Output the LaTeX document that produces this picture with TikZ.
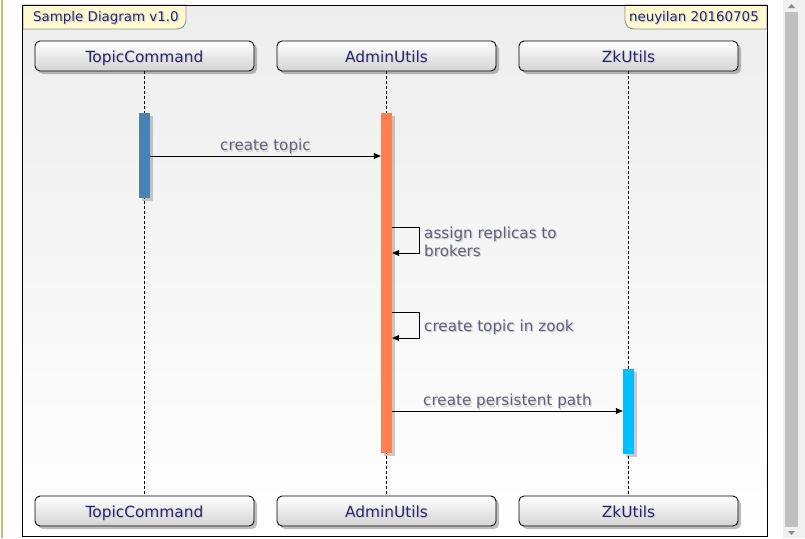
\documentclass[tikz,border=0pt]{standalone}
\usepackage{fontspec}
\setmainfont{DejaVu Sans}
\usetikzlibrary{shadows,arrows.meta,calc}
\definecolor{partfg}{HTML}{26266E}
\definecolor{msgfg}{HTML}{5E6078}
\definecolor{tabfill}{HTML}{FFFBD0}
\definecolor{steel}{HTML}{4682B4}
\definecolor{coral}{HTML}{FF7F50}
\definecolor{sky}{HTML}{00BFFF}
\definecolor{olive}{HTML}{C8BA78}
\newcommand\shd[2]{\rlap{\smash{\hspace{1.2pt}\raisebox{-1.2pt}{\color{#1}#2}}}#2}
\begin{document}
\begin{tikzpicture}[x=1pt,y=-1pt,
  part/.style={draw=black, line width=0.9pt, rounded corners=5pt, minimum width=219pt, minimum height=30pt,
    inner sep=0pt, top color=white, bottom color=black!17, text=partfg, font=\fontsize{15.4}{18}\selectfont,
    text height=12pt, text depth=0pt,
    drop shadow={shadow xshift=3pt, shadow yshift=-3pt, opacity=0.25, fill=black}},
  act/.style={minimum width=11pt, inner sep=0pt, draw=none,
    drop shadow={shadow xshift=2.5pt, shadow yshift=-2.5pt, opacity=0.2, fill=black}},
  life/.style={draw=black, line width=0.8pt, dash pattern=on 3pt off 2pt},
  msg/.style={draw=black, line width=0.8pt, -{Triangle[length=7pt,width=6pt]}},
  lbl/.style={text=msgfg, font=\fontsize{15.2}{18}\selectfont, inner sep=0pt},
  tab/.style={fill=tabfill, draw=black!45, line width=0.8pt},
  tabtxt/.style={text=partfg, font=\fontsize{13.4}{16}\selectfont, inner sep=0pt, text height=10pt, text depth=3pt}
]
\useasboundingbox (0,0) rectangle (805,538);
\fill[white] (0,0) rectangle (805,538);
% left edge line
\fill[olive] (0.5,0) rectangle (2.5,538);
% scrollbar
\fill[black!6] (783,0) rectangle (805,538);
\fill[black!25] (785,12) rectangle (798,527);
\fill[black!45] (788,8) -- (795,8) -- (791.5,4) -- cycle;
\fill[black!45] (788,531) -- (795,531) -- (791.5,535) -- cycle;
% frame
\shade[top color=black!7, bottom color=white] (22.5,5) rectangle (767.5,536);
\draw[black, line width=0.9pt] (22.5,5) rectangle (767.5,536);
% tabs
\path[tab] (23,5) -- (23,29) [rounded corners=9pt] -- (186,29) [sharp corners] -- (186,5) -- cycle;
\node[tabtxt, anchor=west] (title) at (33,17.5) {\shd{black!20}{Sample Diagram v1.0}};
\path[tab] (767,5) -- (767,29) [rounded corners=9pt] -- (625,29) [sharp corners] -- (625,5) -- cycle;
\draw[black, line width=0.9pt] (22.5,5) -- (767.5,5) -- (767.5,30) (22.5,5) -- (22.5,30);
\node[tabtxt, anchor=east] (author) at (759,17.5) {\shd{black!20}{neuyilan 20160705}};
% participants
\node[part] (tcT) at (144.5,56) {\shd{black!18}{TopicCommand}};
\node[part] (auT) at (386.5,56) {\shd{black!18}{AdminUtils}};
\node[part] (zkT) at (628.5,56) {\shd{black!18}{ZkUtils}};
\node[part] (tcB) at (144.5,511) {\shd{black!18}{TopicCommand}};
\node[part] (auB) at (386.5,511) {\shd{black!18}{AdminUtils}};
\node[part] (zkB) at (628.5,511) {\shd{black!18}{ZkUtils}};
% lifelines
\draw[life] (tcT) -- (tcB);
\draw[life] (auT) -- (auB);
\draw[life] (zkT) -- (zkB);
% activations
\node[act, fill=steel, minimum height=85pt] (a1) at (144.5,155.5) {};
\node[act, fill=coral, minimum height=340pt] (a2) at (386.5,283) {};
\node[act, fill=sky, minimum height=85pt] (a3) at (628.5,411.5) {};
% messages
\coordinate (m1) at (0,156);
\coordinate (s1) at (0,227);
\coordinate (s1e) at (0,253);
\coordinate (s2) at (0,312);
\coordinate (s2e) at (0,338);
\coordinate (m4) at (0,411);
\draw[msg] (a1.east |- m1) -- node[lbl, above=1.5pt] {\shd{black!18}{create topic}} (a2.west |- m1);
\draw[msg] (a2.east |- s1) -- ++(27,0) -- ++(0,26) -- (a2.east |- s1e);
\node[lbl, anchor=west, align=left] (l2) at (424,242) {\shd{black!18}{assign replicas to}\\\shd{black!18}{brokers}};
\draw[msg] (a2.east |- s2) -- ++(27,0) -- ++(0,26) -- (a2.east |- s2e);
\node[lbl, anchor=west] (l3) at (424,327) {\shd{black!18}{create topic in zook}};
\draw[msg] (a2.east |- m4) -- node[lbl, above=1.5pt] {\shd{black!18}{create persistent path}} (a3.west |- m4);
\end{tikzpicture}
\end{document}
